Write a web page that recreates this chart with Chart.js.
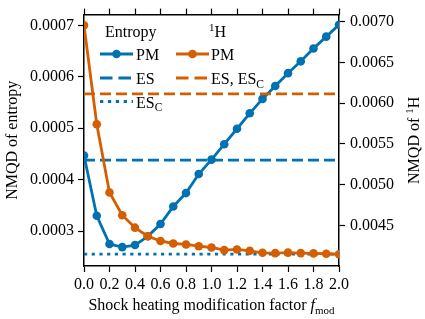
<!DOCTYPE html>
<html>
<head>
<meta charset="utf-8">
<script src="https://cdn.jsdelivr.net/npm/chart.js@4.4.1/dist/chart.umd.min.js"></script>
<style>
  html, body { margin: 0; padding: 0; background: #fff; }
  #chart { display: block; }
</style>
</head>
<body>
<canvas id="chart" width="425" height="319"></canvas>
<script>
// shock heating modification factor f_mod
const fMod = [0.0, 0.1, 0.2, 0.3, 0.4, 0.5, 0.6, 0.7, 0.8, 0.9, 1.0,
              1.1, 1.2, 1.3, 1.4, 1.5, 1.6, 1.7, 1.8, 1.9, 2.0];

// NMQD of entropy (left axis)
const entropyPM = [0.000447, 0.000330, 0.000275, 0.000269, 0.000273, 0.000290, 0.000314,
                   0.000348, 0.000374, 0.000411, 0.000439, 0.000469, 0.000499, 0.000529,
                   0.000557, 0.000582, 0.000607, 0.000630, 0.000655, 0.000678, 0.000701];
const entropyES = 0.000438;
const entropyESC = 0.0002554;

// NMQD of 1H (right axis)
const hydrogenPM = [0.006955, 0.005741, 0.004904, 0.004625, 0.004472, 0.004367, 0.004309,
                    0.004278, 0.004266, 0.004245, 0.004229, 0.004197, 0.004205, 0.004188,
                    0.004164, 0.004160, 0.004166, 0.004160, 0.004157, 0.004152, 0.004146];
const hydrogenES = 0.006114;   // ES and ES_C coincide

const xTicks = [0.0, 0.2, 0.4, 0.6, 0.8, 1.0, 1.2, 1.4, 1.6, 1.8, 2.0];
const leftTicks = [0.0003, 0.0004, 0.0005, 0.0006, 0.0007];
const rightTicks = [0.0045, 0.0050, 0.0055, 0.0060, 0.0065, 0.0070];

const BLUE = '#0072B2';
const ORANGE = '#D55E00';
const serif = '"Liberation Serif", "DejaVu Serif", serif';
const DASH = [11, 5];
const DOT = [3.2, 4.5];

const pairs = (ys) => fMod.map((x, i) => ({ x: x, y: ys[i] }));
const flat = (v) => [{ x: fMod[0], y: v }, { x: fMod[fMod.length - 1], y: v }];

// text with sub/superscripts drawn piece by piece
function drawRuns(ctx, runs, x, y, align) {
    let total = 0;
    runs.forEach(r => {
        ctx.font = (r.italic ? 'italic ' : '') + (r.size || 16) + 'px ' + serif;
        r.w = ctx.measureText(r.text).width;
        total += r.w;
    });
    let cx = align === 'center' ? x - total / 2 : x;
    ctx.textAlign = 'left';
    ctx.textBaseline = 'alphabetic';
    runs.forEach(r => {
        ctx.font = (r.italic ? 'italic ' : '') + (r.size || 16) + 'px ' + serif;
        ctx.fillText(r.text, cx, y + (r.dy || 0));
        cx += r.w;
    });
}

function handle(ctx, x1, x2, y, color, dash, marker) {
    ctx.save();
    ctx.strokeStyle = color;
    ctx.lineWidth = 2.8;
    ctx.lineCap = 'butt';
    ctx.setLineDash(dash || []);
    ctx.beginPath();
    ctx.moveTo(x1, y);
    ctx.lineTo(x2, y);
    ctx.stroke();
    if (marker) {
        ctx.setLineDash([]);
        ctx.fillStyle = color;
        ctx.beginPath();
        ctx.arc((x1 + x2) / 2, y, 4.3, 0, Math.PI * 2);
        ctx.fill();
    }
    ctx.restore();
}

const extras = {
    id: 'extras',
    afterDraw(chart) {
        const ctx = chart.ctx;
        const area = chart.chartArea;
        const midX = (area.left + area.right) / 2;
        const midY = (area.top + area.bottom) / 2;
        ctx.save();
        ctx.fillStyle = '#000';

        // x title
        drawRuns(ctx, [
            { text: 'Shock heating modification factor ' },
            { text: 'f', italic: true },
            { text: 'mod', size: 11, dy: 3.5 }
        ], midX, 310, 'center');

        // left title
        ctx.save();
        ctx.translate(16.7, midY);
        ctx.rotate(-Math.PI / 2);
        drawRuns(ctx, [{ text: 'NMQD of entropy' }], 0, 0, 'center');
        ctx.restore();

        // right title
        ctx.save();
        ctx.translate(418.7, midY);
        ctx.rotate(-Math.PI / 2);
        drawRuns(ctx, [
            { text: 'NMQD of ' },
            { text: '1', size: 11, dy: -6 },
            { text: 'H' }
        ], 0, 0, 'center');
        ctx.restore();

        // legend, column 1
        drawRuns(ctx, [{ text: 'Entropy' }], 105, 37.3);
        handle(ctx, 100, 133, 54, BLUE, null, true);
        drawRuns(ctx, [{ text: 'PM' }], 136, 60);
        handle(ctx, 100, 133, 78, BLUE, [12.5, 6]);
        drawRuns(ctx, [{ text: 'ES' }], 136, 84);
        handle(ctx, 100, 133, 101.5, BLUE, [3.3, 4.6]);
        drawRuns(ctx, [{ text: 'ES' }, { text: 'C', size: 11.5, dy: 3.5 }], 136, 107.5);

        // legend, column 2
        drawRuns(ctx, [{ text: '1', size: 11, dy: -6 }, { text: 'H' }], 209, 37.3);
        handle(ctx, 176, 209, 54, ORANGE, null, true);
        drawRuns(ctx, [{ text: 'PM' }], 211, 60);
        handle(ctx, 176, 209, 78, ORANGE, [12.5, 6]);
        drawRuns(ctx, [{ text: 'ES, ES' }, { text: 'C', size: 11.5, dy: 3.5 }], 211, 84);

        ctx.restore();
    }
};

const tickFont = { family: serif, size: 16 };
const axisGrid = { drawOnChartArea: false, drawTicks: true, tickLength: 6, tickWidth: 1.2, tickColor: '#000' };
const axisBorder = { display: true, color: '#000', width: 1.5 };

const lineSet = (label, data, color, axis, dash, points) => ({
    label: label,
    data: data,
    yAxisID: axis,
    borderColor: color,
    backgroundColor: color,
    borderWidth: 2.8,
    borderDash: dash || [],
    borderCapStyle: 'butt',
    pointRadius: points ? 4.3 : 0,
    pointBorderWidth: 0,
    pointHoverRadius: points ? 4.3 : 0,
    tension: 0
});

new Chart(document.getElementById('chart'), {
    type: 'line',
    data: {
        datasets: [
            lineSet('1H PM', pairs(hydrogenPM), ORANGE, 'y2', null, true),
            lineSet('1H ES, ES_C', flat(hydrogenES), ORANGE, 'y2', DASH, false),
            lineSet('Entropy PM', pairs(entropyPM), BLUE, 'y', null, true),
            lineSet('Entropy ES', flat(entropyES), BLUE, 'y', DASH, false),
            lineSet('Entropy ES_C', flat(entropyESC), BLUE, 'y', DOT, false)
        ]
    },
    options: {
        responsive: false,
        animation: false,
        events: [],
        layout: { padding: 0 },
        plugins: { legend: { display: false }, tooltip: { enabled: false } },
        scales: {
            x: {
                type: 'linear', position: 'bottom', min: 0, max: 2,
                afterBuildTicks: s => { s.ticks = xTicks.map(v => ({ value: v })); },
                afterFit: s => { s.height = 53; },
                ticks: { callback: v => v.toFixed(1), font: tickFont, color: '#000', padding: 3, maxRotation: 0, autoSkip: false },
                grid: axisGrid,
                border: axisBorder
            },
            xTop: {
                type: 'linear', position: 'top', min: 0, max: 2,
                afterBuildTicks: s => { s.ticks = xTicks.map(v => ({ value: v })); },
                afterFit: s => { s.height = 12; },
                ticks: { display: false },
                grid: axisGrid,
                border: axisBorder
            },
            y: {
                type: 'linear', position: 'left', min: 0.0002323, max: 0.0007208,
                afterBuildTicks: s => { s.ticks = leftTicks.map(v => ({ value: v })); },
                afterFit: s => { s.width = 84; },
                ticks: { callback: v => v.toFixed(4), font: tickFont, color: '#000', padding: 4 },
                grid: axisGrid,
                border: axisBorder
            },
            y2: {
                type: 'linear', position: 'right', min: 0.004002, max: 0.007085,
                afterBuildTicks: s => { s.ticks = rightTicks.map(v => ({ value: v })); },
                afterFit: s => { s.width = 86; },
                ticks: { callback: v => v.toFixed(4), font: tickFont, color: '#000', padding: 5 },
                grid: axisGrid,
                border: axisBorder
            }
        }
    },
    plugins: [extras]
});
</script>
</body>
</html>
